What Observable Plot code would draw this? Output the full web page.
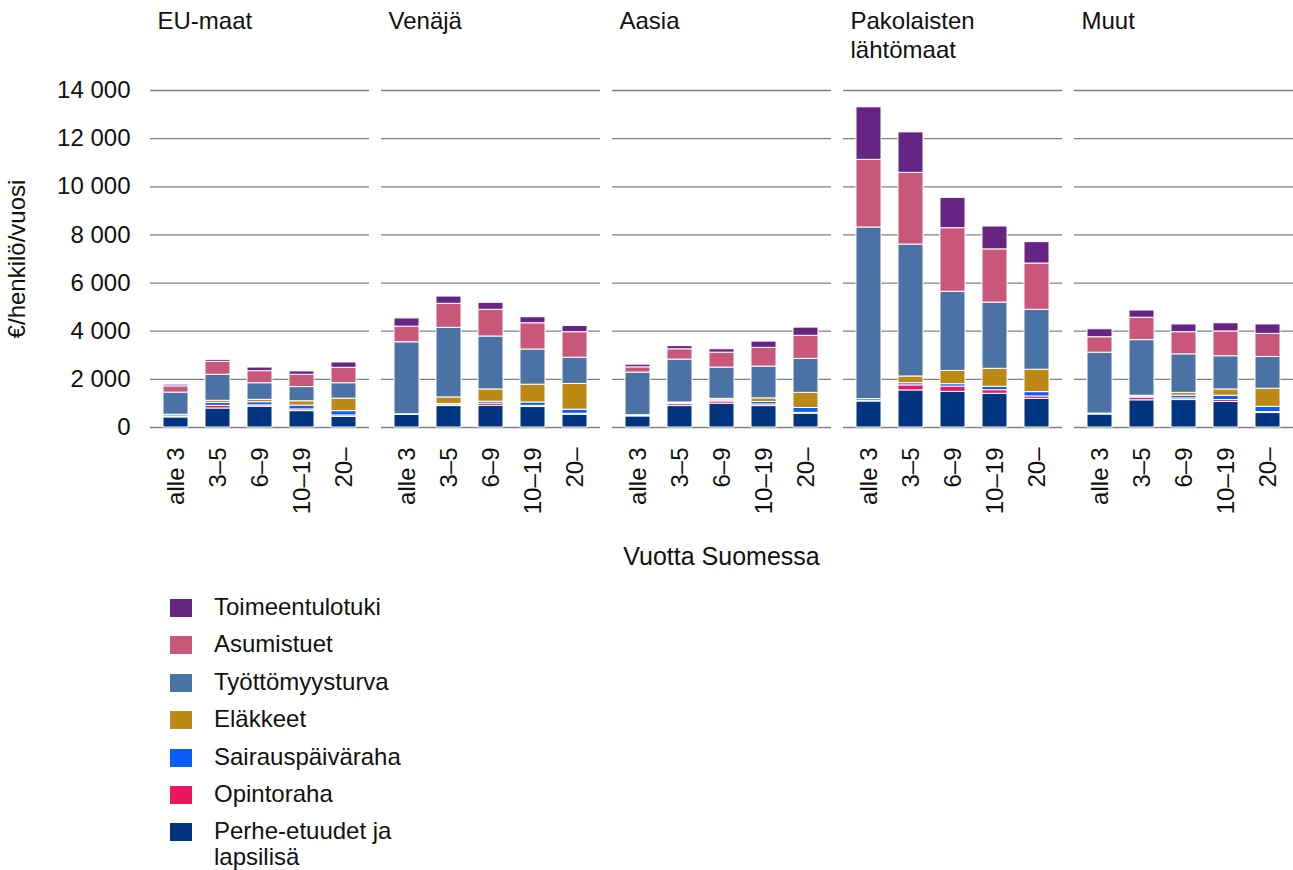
<!DOCTYPE html>
<html>
<head>
<meta charset="utf-8">
<script src="https://cdn.jsdelivr.net/npm/d3@7"></script>
<script src="https://cdn.jsdelivr.net/npm/@observablehq/plot@0.6"></script>
<style>
  html, body { margin: 0; padding: 0; background: #fff; }
  body { width: 1293px; height: 870px; position: relative; font-family: "Liberation Sans", Arial, sans-serif; color: #111; }
  #xlabel { position: absolute; left: 150px; width: 1143px; top: 543px; text-align: center; font-size: 25px; line-height: 27px; }
  #legend { position: absolute; left: 170px; top: 594px; font-size: 24px; line-height: 26px; }
  .row { display: flex; align-items: flex-start; height: 37.4px; }
  .sw { width: 22px; height: 18px; margin-top: 5px; margin-right: 22px; flex: none; }
</style>
</head>
<body>
<div id="chart"></div>
<div id="xlabel">Vuotta Suomessa</div>
<div id="legend"></div>
<script>
// Categories
const regions = ["EU-maat", "Venäjä", "Aasia", "Pakolaisten\nlähtömaat", "Muut"];
const years = ["alle 3", "3–5", "6–9", "10–19", "20–"];
// Series, bottom to top of the stack
const series = ["Perhe-etuudet ja lapsilisä", "Opintoraha", "Sairauspäiväraha", "Eläkkeet", "Työttömyysturva", "Asumistuet", "Toimeentulotuki"];
const colors = ["#00357f", "#ea165f", "#0b5ef5", "#bc8a14", "#4b72a5", "#c9577a", "#662483"];
const yTicks = [0, 2000, 4000, 6000, 8000, 10000, 12000, 14000];

// Values (€/henkilö/vuosi), one row per region, one value per year group
const perhe = [
  [420, 790, 860, 680, 440],
  [530, 890, 900, 850, 530],
  [460, 890, 990, 890, 570],
  [1080, 1540, 1480, 1400, 1190],
  [540, 1130, 1140, 1060, 600]
];
const opintoraha = [
  [40, 110, 60, 70, 60],
  [10, 60, 90, 50, 40],
  [20, 80, 90, 70, 40],
  [30, 210, 220, 150, 100],
  [10, 110, 70, 80, 40]
];
const sairaus = [
  [60, 120, 130, 160, 180],
  [10, 30, 80, 140, 170],
  [30, 40, 50, 100, 200],
  [70, 90, 100, 140, 180],
  [30, 50, 110, 180, 220]
];
const elakkeet = [
  [10, 90, 100, 180, 520],
  [0, 270, 510, 740, 1070],
  [0, 30, 60, 150, 630],
  [0, 280, 550, 750, 930],
  [0, 30, 120, 260, 750]
];
const tyottomyys = [
  [920, 1080, 690, 590, 640],
  [2990, 2890, 2200, 1460, 1090],
  [1770, 1780, 1300, 1320, 1410],
  [7130, 5480, 3290, 2750, 2490],
  [2530, 2310, 1600, 1380, 1320]
];
const asumistuet = [
  [260, 540, 500, 510, 640],
  [650, 1000, 1110, 1090, 1060],
  [220, 430, 620, 780, 960],
  [2810, 2980, 2640, 2210, 1920],
  [640, 930, 920, 1030, 960]
];
const toimeentulo = [
  [70, 80, 150, 140, 220],
  [340, 300, 290, 250, 260],
  [110, 130, 140, 260, 340],
  [2180, 1680, 1260, 950, 890],
  [330, 300, 320, 340, 390]
];

const seriesValues = [perhe, opintoraha, sairaus, elakkeet, tyottomyys, asumistuet, toimeentulo];

const table = [];
series.forEach((s, si) => {
  regions.forEach((r, ri) => {
    years.forEach((yr, yi) => {
      table.push({series: s, region: r, year: yr, value: seriesValues[si][ri][yi]});
    });
  });
});

const fmt = d => d3.format(",")(d).replace(/,/g, " ");

const chart = Plot.plot({
  width: 1293,
  height: 585,
  marginTop: 90,
  marginBottom: 158,
  marginLeft: 150,
  marginRight: 0,
  style: {fontFamily: "'Liberation Sans', Arial, sans-serif", fontSize: "24px", color: "#111", background: "white"},
  fx: {domain: regions, paddingInner: 0.052, paddingOuter: 0, axis: null},
  x: {domain: years, paddingInner: 0.41, paddingOuter: 0.3},
  y: {domain: [0, 14000]},
  color: {domain: series, range: colors},
  marks: [
    Plot.gridY(yTicks, {stroke: "#808080", strokeOpacity: 1, strokeWidth: 1.3}),
    Plot.barY(table, {fx: "region", x: "year", y: "value", fill: "series", order: series, stroke: "white", strokeWidth: 1}),
    Plot.axisY(yTicks, {tickSize: 0, tickPadding: 20, tickFormat: fmt, fontSize: 24, label: "€/henkilö/vuosi", labelAnchor: "center", labelArrow: "none", labelOffset: 143}),
    Plot.axisX({tickSize: 0, tickRotate: -90, tickPadding: 20, label: null, fontSize: 24}),
    Plot.text(regions, {fx: d => d, text: d => d, frameAnchor: "top-left", dx: 7, dy: -81, lineAnchor: "top", lineHeight: 1.17, fontSize: 24})
  ]
});
document.getElementById("chart").appendChild(chart);

// Legend (top to bottom: reverse stacking order)
const legend = document.getElementById("legend");
const legendLabels = {"Perhe-etuudet ja lapsilisä": "Perhe-etuudet ja<br>lapsilisä"};
series.map((s, i) => ({s, c: colors[i]})).reverse().forEach(({s, c}) => {
  const row = document.createElement("div");
  row.className = "row";
  row.innerHTML = `<div class="sw" style="background:${c}"></div><div>${legendLabels[s] || s}</div>`;
  legend.appendChild(row);
});
</script>
</body>
</html>
